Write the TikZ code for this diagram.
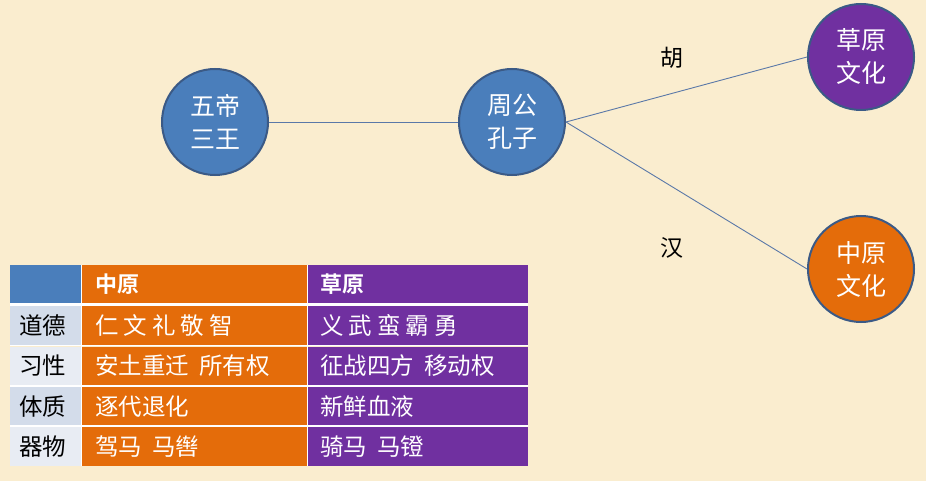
\documentclass[tikz,border=0pt]{standalone}
\usepackage{fontspec}
\newfontfamily\cjk{Noto Sans CJK SC}
\newfontfamily\cjkb{Noto Sans CJK SC Bold}
\definecolor{bg}{HTML}{FAEDCF}
\definecolor{cblue}{HTML}{4A7EBB}
\definecolor{cborder}{HTML}{3B5A86}
\definecolor{corange}{HTML}{E46C0A}
\definecolor{cpurple}{HTML}{7030A0}
\definecolor{rowA}{HTML}{D3DCEA}
\definecolor{rowB}{HTML}{E8ECF3}
\definecolor{linec}{HTML}{5A78A8}
\newcommand{\gs}{\hspace{5pt}}
\newcommand{\gw}{\hspace{10pt}}
\begin{document}
\begin{tikzpicture}[x=1pt,y=-1pt,
  bubble/.style={circle,draw=cborder,line width=2pt,minimum size=106pt,inner sep=0pt,
    text=white,font=\cjk\fontsize{25}{33}\selectfont,align=center},
  link/.style={draw=linec,line width=0.9pt},
  lbl/.style={font=\cjk\fontsize{23}{27}\selectfont,text=black},
  ctext/.style={font=\cjk\fontsize{23.5}{27}\selectfont,text=white,anchor=west,inner sep=0pt},
  htext/.style={font=\cjkb\fontsize{22}{26}\selectfont,text=white,anchor=west,inner sep=0pt},
  rtext/.style={font=\cjk\fontsize{23.5}{27}\selectfont,text=black,anchor=center}
]
\fill[bg] (0,0) rectangle (926,481);
\useasboundingbox (0,0) rectangle (926,481);

\node[bubble,fill=cblue] (wd) at (215,122) {五帝\\三王};
\node[bubble,fill=cblue] (zg) at (512,122) {周公\\孔子};
\node[bubble,fill=cpurple] (cy) at (861,57) {草原\\文化};
\node[bubble,fill=corange] (zy) at (861,269) {中原\\文化};

\draw[link] (wd) -- (zg);
\draw[link] (zg.east) -- (cy.west);
\draw[link] (zg.east) -- (zy.west);

\node[lbl] (hu) at (672,58) {胡};
\node[lbl] (han) at (672,248) {汉};

% table
\fill[cblue] (10,265) rectangle (81,303);
\fill[corange] (82,265) rectangle (307,303);
\fill[cpurple] (308,265) rectangle (528,303);
\draw[white,line width=2.5pt] (10,304.5) -- (528,304.5);
\foreach \y/\c in {306/rowA,347/rowB,387/rowA,427/rowB}{
  \fill[\c] (10,\y) rectangle (81,\y+39);
  \fill[corange] (82,\y) rectangle (307,\y+39);
  \fill[cpurple] (308,\y) rectangle (528,\y+39);
}
\foreach \y in {345.5,386,426}{
  \draw[white,line width=1.5pt] (10,\y) -- (528,\y);
}
\draw[white,line width=1.2pt] (81.5,265) -- (81.5,466);
\draw[white,line width=1.2pt] (307.5,265) -- (307.5,466);

\node[htext] (h1) at (95,284) {中原};
\node[htext] (h2) at (320,284) {草原};

\node[rtext] (r1) at (43,325.5) {道德};
\node[rtext] (r2) at (43,366) {习性};
\node[rtext] (r3) at (43,406.5) {体质};
\node[rtext] (r4) at (43,446.5) {器物};

\node[ctext] (a1) at (95,325.5) {仁\gs 文\gs 礼\gs 敬\gs 智};
\node[ctext] (a2) at (95,366) {安土重迁\gw 所有权};
\node[ctext] (a3) at (95,406.5) {逐代退化};
\node[ctext] (a4) at (95,446.5) {驾马\gw 马辔};

\node[ctext] (b1) at (320,325.5) {义\gs 武\gs 蛮\gs 霸\gs 勇};
\node[ctext] (b2) at (320,366) {征战四方\gw 移动权};
\node[ctext] (b3) at (320,406.5) {新鲜血液};
\node[ctext] (b4) at (320,446.5) {骑马\gw 马镫};
\end{tikzpicture}
\end{document}
